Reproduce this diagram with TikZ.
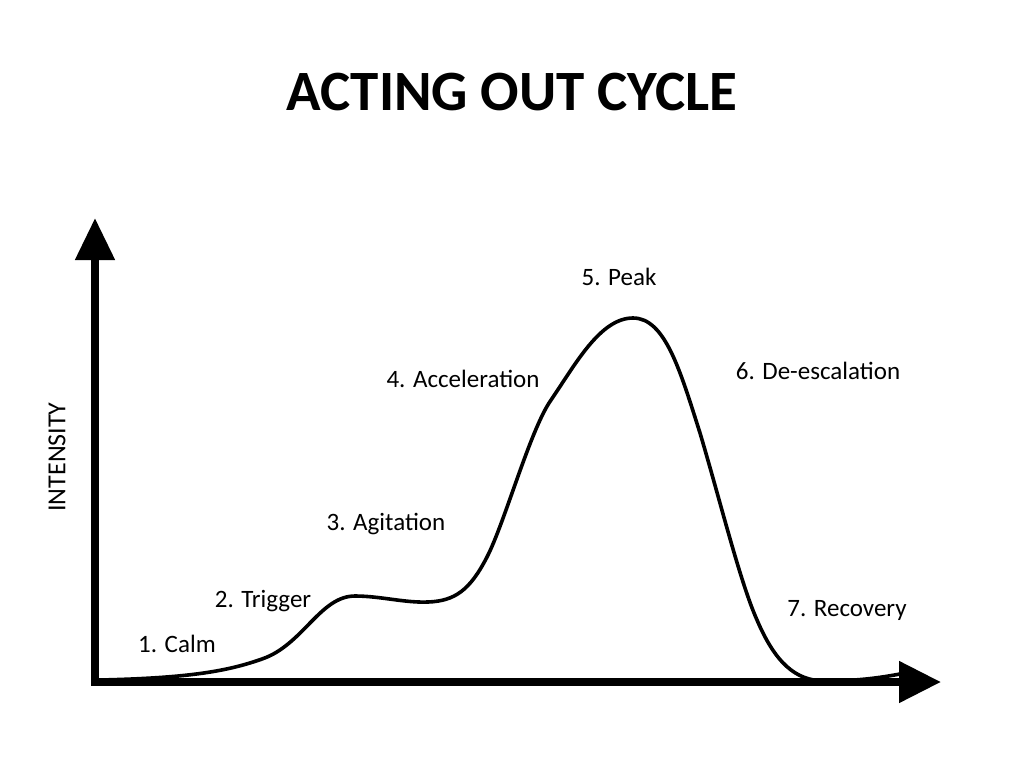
\documentclass[tikz,border=0pt]{standalone}
\usepackage{fontspec}
\setmainfont{Carlito}
\usetikzlibrary{arrows.meta}
\begin{document}
\begin{tikzpicture}
[x=1pt,y=-1pt,%
  axisLine/.style={line width=8pt,line join=miter,
    {Triangle[length=42pt,width=38pt]}-{Triangle[length=42pt,width=40pt]}},%
  cycleCurve/.style={line width=3.6pt,line cap=round,line join=round},%
  stageLabel/.style={font=\fontsize{25}{30}\selectfont,inner sep=0pt}]
\useasboundingbox (0,0) rectangle (1024,768);
%% title
\node (title) at (512,92) [font=\fontsize{57}{68}\selectfont\bfseries] {ACTING OUT CYCLE};
%% axes
\coordinate (ytip) at (95,218);
\coordinate (origin) at (95,682);
\coordinate (xtip) at (941,682);
\draw[axisLine] (ytip) -- (origin) -- (xtip);
\node (intensity) at (57,457) [rotate=90,font=\fontsize{26}{30}\selectfont,inner sep=0pt] {INTENSITY};
%% the cycle
\draw[cycleCurve] (100,680)
  .. controls (190,678) and (228,671) .. (262,659)
  .. controls (303,645) and (320,596) .. (355,596)
  .. controls (380,596) and (405,603) .. (428,602)
  .. controls (455,601) and (470,590) .. (487,557)
  .. controls (505,522) and (530,430) .. (551,400)
  .. controls (575,365) and (600,318) .. (633,318)
  .. controls (665,318) and (680,370) .. (700,433)
  .. controls (720,500) and (740,582) .. (757,620)
  .. controls (775,662) and (795,681) .. (825,681)
  .. controls (860,681) and (885,677) .. (905,673);
%% stages
\foreach \stagename/\x/\y/\txt in {calm/177/644/1. Calm, trigger/263/601/2. Trigger,
  agitation/386/524/3. Agitation, acceleration/463/379/4. Acceleration,
  peak/619/277/5. Peak, deescalation/818/371/6. De-escalation,
  recovery/847/610/7. Recovery}
{
  \node (\stagename) at (\x,\y) [stageLabel] {\txt};
}
\end{tikzpicture}
\end{document}
